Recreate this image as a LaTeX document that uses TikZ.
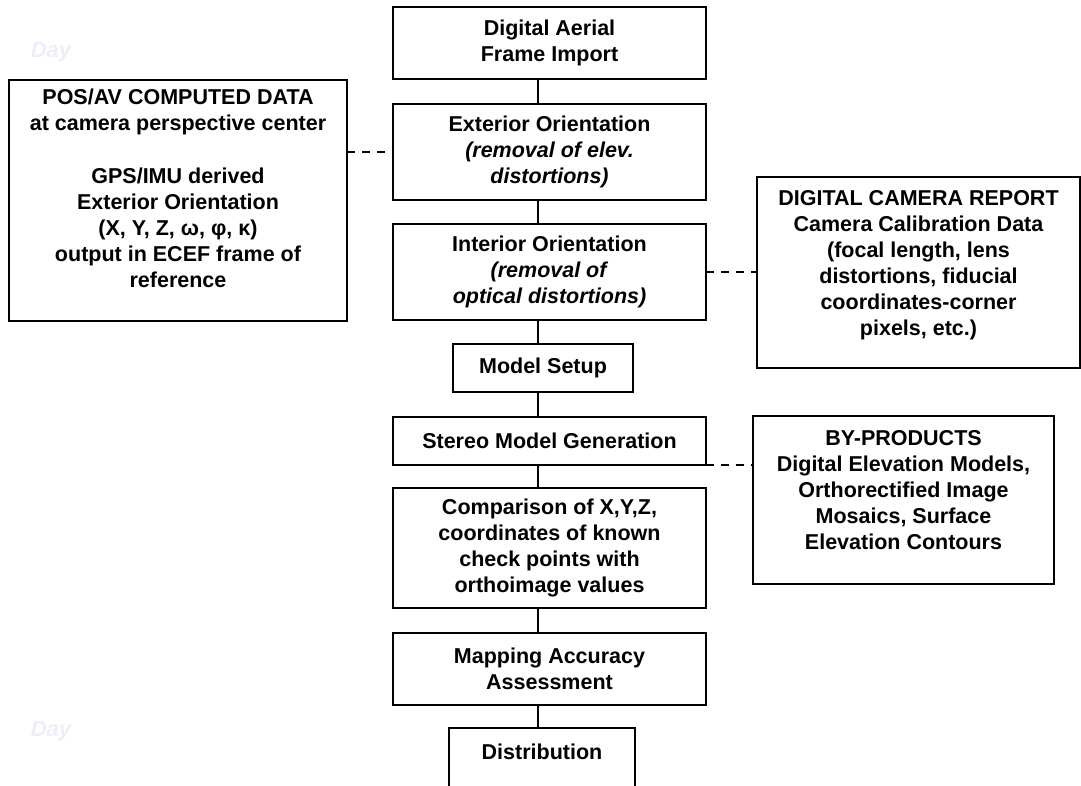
\documentclass[tikz,border=0pt]{standalone}
\usepackage{fontspec}
\setmainfont{Liberation Sans}
\usepackage{tikz}
\usetikzlibrary{positioning}

\definecolor{wmark}{RGB}{236,238,250}

\tikzset{
  stage/.style  = {draw, line width=2.4pt, align=center, inner sep=0pt, outer sep=0pt, minimum width=313pt},
  source/.style = {draw, line width=2.4pt, align=center, inner sep=0pt, outer sep=0pt},
  link/.style   = {line width=2.4pt},
  dlink/.style  = {line width=2.4pt, dash pattern=on 8pt off 7pt},
}

\begin{document}
\begin{tikzpicture}[x=1pt, y=-1pt, font=\fontsize{21.5}{26}\selectfont\bfseries]

\clip (0,0) rectangle (1081,785);

\node [text=wmark, font=\fontsize{22}{26}\selectfont\bfseries\itshape] (day1) at (51,52)  {Day};
\node [text=wmark, font=\fontsize{22}{26}\selectfont\bfseries\itshape] (day2) at (51,731) {Day};

\node [stage , minimum height=72pt                               ] (frame)  at (549.5,43) {Digital Aerial\\Frame Import};
\node [stage , minimum height=96pt , below=25pt of frame         ] (ext)    {Exterior Orientation\\\textit{(removal of elev.}\\\textit{distortions)}};
\node [stage , minimum height=96pt , below=24pt of ext           ] (intr)   {Interior Orientation\\\textit{(removal of}\\\textit{optical distortions)}};
\node [stage , minimum height=48pt , minimum width=180pt, below=24pt of intr , xshift=-6.5pt] (setup)  {Model Setup};
\node [stage , minimum height=48pt , below=25pt of setup , xshift=6.5pt] (stereo) {Stereo Model Generation};
\node [stage , minimum height=120pt, below=23pt of stereo        ] (comp)   {Comparison of X,Y,Z,\\coordinates of known\\check points with\\orthoimage values};
\node [stage , minimum height=72pt , below=25pt of comp          ] (acc)    {Mapping Accuracy\\Assessment};
\node [stage , minimum height=72pt , minimum width=186pt, below=23pt of acc , xshift=-7.5pt] (dist)   {Distribution\\[-2pt]\mbox{}};

\node [source, minimum width=338pt, minimum height=241pt, anchor=north east] (posav) at ([xshift=-46pt, yshift=24pt]ext.north west)
  {POS/AV COMPUTED DATA\\at camera perspective center\\[27pt]GPS/IMU derived\\Exterior Orientation\\(X, Y, Z, ω, φ, κ)\\output in ECEF frame of\\reference\\[-2pt]\mbox{}};
\node [source, minimum width=323pt, minimum height=191pt, anchor=north west] (dcr)   at ([xshift=51pt, yshift=47pt]intr.north east)
  {DIGITAL CAMERA REPORT\\Camera Calibration Data\\(focal length, lens\\distortions, fiducial\\coordinates-corner\\pixels, etc.)\\[-6pt]\mbox{}};
\node [source, minimum width=301pt, minimum height=168pt, anchor=north west] (byprod) at ([xshift=47pt, yshift=1pt]stereo.north east)
  {BY-PRODUCTS\\Digital Elevation Models,\\Orthorectified Image\\Mosaics, Surface\\Elevation Contours\\[-6pt]\mbox{}};

\coordinate (spine) at (538,0);

\path [link] (frame.south  -| spine) edge (ext.north    -| spine);
\path [link] (ext.south    -| spine) edge (intr.north   -| spine);
\path [link] (intr.south   -| spine) edge (setup.north  -| spine);
\path [link] (setup.south  -| spine) edge (stereo.north -| spine);
\path [link] (stereo.south -| spine) edge (comp.north   -| spine);
\path [link] (comp.south   -| spine) edge (acc.north    -| spine);
\path [link] (acc.south    -| spine) edge (dist.north   -| spine);

\path [dlink] (posav.east |- ext.west) edge (ext.west);
\path [dlink] (intr.east) edge (intr.east -| dcr.west);
\path [dlink] (stereo.south east) edge (stereo.south east -| byprod.west);

\end{tikzpicture}
\end{document}
